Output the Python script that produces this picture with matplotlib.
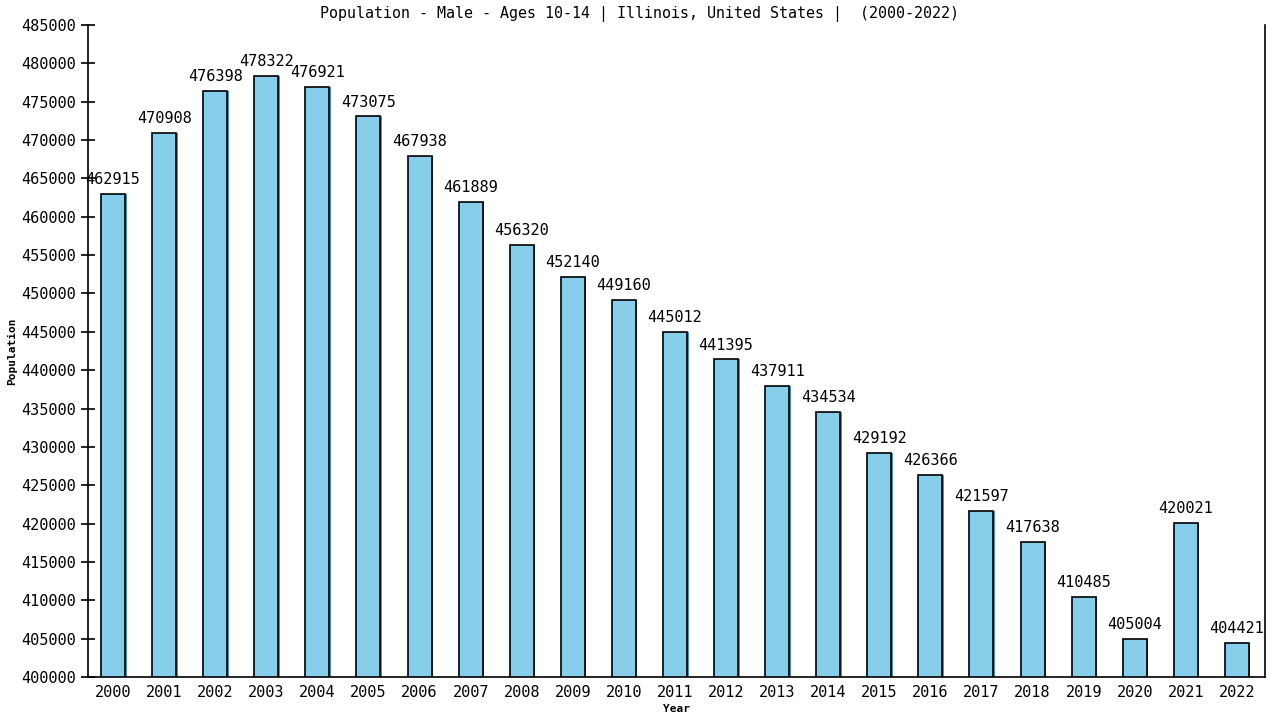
import matplotlib
matplotlib.use("Agg")
import matplotlib.pyplot as plt

years = [str(y) for y in range(2000, 2023)]
population = [462915, 470908, 476398, 478322, 476921, 473075, 467938, 461889,
              456320, 452140, 449160, 445012, 441395, 437911, 434534, 429192,
              426366, 421597, 417638, 410485, 405004, 420021, 404421]
yticks = list(range(400000, 485001, 5000))

mono = "DejaVu Sans Mono"

fig = plt.figure(figsize=(12.8, 7.2), dpi=100)
ax = fig.add_axes([88 / 1280, 43 / 720, 1177 / 1280, 652 / 720])

x = list(range(len(years)))
# slight blue shadow on the right, like the original renderer
ax.bar([i + 0.03 for i in x], population, width=0.47, color="#4a90c0", zorder=1)
ax.bar(x, population, width=0.47, color="#87ceeb", edgecolor="black", linewidth=1.2, zorder=2)

for i, v in zip(x, population):
    ax.annotate(str(v), (i, v), xytext=(0, 5), textcoords="offset points",
                ha="center", va="bottom", fontsize=11, family=mono)

ax.set_xlim(-0.49, 22.55)
ax.set_ylim(400000, 485000)
ax.set_yticks(yticks)
ax.set_yticklabels([str(t) for t in yticks], fontsize=11, family=mono)
ax.set_xticks(x)
ax.set_xticklabels(years, fontsize=11, family=mono)
ax.tick_params(axis="x", length=0, pad=6)
ax.tick_params(axis="y", direction="inout", length=10, width=1.2, pad=4)

ax.spines["top"].set_visible(False)
for s in ("left", "right", "bottom"):
    ax.spines[s].set_linewidth(1.2)

ax.set_xlabel("Year", fontsize=8, family=mono, fontweight="bold")
ax.set_ylabel("Population", fontsize=8, family=mono, fontweight="bold")
ax.xaxis.set_label_coords(0.5, -0.049)
ax.yaxis.set_label_coords(-0.0646, 0.5)
ax.xaxis.label.set_va("center")
ax.yaxis.label.set_va("center")
fig.text(0.5, 0.981, "Population - Male - Ages 10-14 | Illinois, United States |  (2000-2022)",
         ha="center", va="center", fontsize=10.8, family=mono)

fig.savefig("out.png", dpi=100)
